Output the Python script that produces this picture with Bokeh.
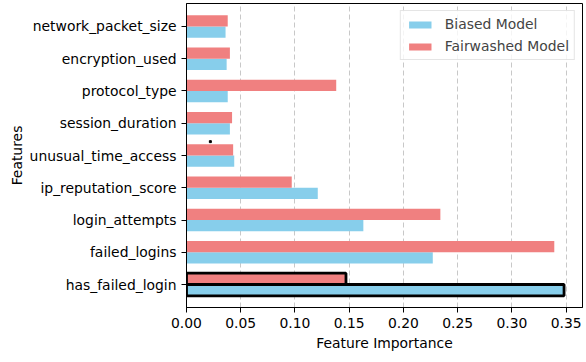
from bokeh.plotting import figure
from bokeh.models import ColumnDataSource, Range1d, FixedTicker, Legend, LegendItem
from bokeh.transform import dodge
from bokeh.embed import file_html
from bokeh.resources import INLINE

features = ["has_failed_login", "failed_logins", "login_attempts", "ip_reputation_score",
            "unusual_time_access", "session_duration", "protocol_type", "encryption_used",
            "network_packet_size"]
biased = [0.348, 0.227, 0.163, 0.121, 0.044, 0.040, 0.038, 0.037, 0.036]
fairwashed = [0.147, 0.339, 0.234, 0.097, 0.043, 0.042, 0.138, 0.040, 0.038]
highlight = ["has_failed_login"]
xticks = [0.0, 0.05, 0.10, 0.15, 0.20, 0.25, 0.30, 0.35]
stray_x = [0.022]
stray_y = [4.43]

BLUE = "#87ceeb"
RED = "#f08080"

ypos = list(range(len(features)))
lw = [2.8 if f in highlight else 0 for f in features]
lc = ["black" if f in highlight else None for f in features]
src = ColumnDataSource(dict(y=ypos, b=biased, f=fairwashed, lw=lw, lc=lc))

FONT = "DejaVu Sans"
FS = "13.9px"
p = figure(width=586, height=362, output_backend="svg", toolbar_location=None, title=None,
           x_range=Range1d(0, 0.365), y_range=Range1d(-0.713, 8.713),
           min_border_left=186, min_border_right=4, min_border_top=3, min_border_bottom=55)

rb = p.hbar(y=dodge("y", -0.175), right="b", left=0, height=0.35, source=src,
            fill_color=BLUE, line_color="lc", line_width="lw")
rf = p.hbar(y=dodge("y", 0.175), right="f", left=0, height=0.35, source=src,
            fill_color=RED, line_color="lc", line_width="lw")
p.scatter(stray_x, stray_y, marker="square", size=2, color="black")

p.outline_line_color = "black"
p.outline_line_width = 1
p.ygrid.grid_line_color = None
p.xgrid.grid_line_color = "#c8c8c8"
p.xgrid.grid_line_dash = "5 3"
p.xgrid.ticker = FixedTicker(ticks=xticks)

p.xaxis.ticker = FixedTicker(ticks=xticks)
p.xaxis.major_label_overrides = {t: f"{t:.2f}" for t in xticks}
p.yaxis.ticker = FixedTicker(ticks=ypos)
p.yaxis.major_label_overrides = {i: f for i, f in enumerate(features)}
for ax in (p.xaxis[0], p.yaxis[0]):
    ax.minor_tick_line_color = None
    ax.major_tick_in = 0
    ax.major_tick_out = 5
    ax.axis_line_color = "black"
    ax.major_label_text_font = FONT
    ax.major_label_text_font_size = FS
    ax.major_label_text_color = "black"
    ax.major_label_standoff = 5
    ax.axis_label_text_font = FONT
    ax.axis_label_text_font_size = FS
    ax.axis_label_text_font_style = "normal"
    ax.axis_label_text_color = "black"
p.xaxis.axis_label = "Feature Importance"
p.yaxis.axis_label = "Features"
p.xaxis.axis_label_standoff = 4
p.yaxis.axis_label_standoff = 2

legend = Legend(items=[LegendItem(label="Biased Model", renderers=[rb], index=1),
                       LegendItem(label="Fairwashed Model", renderers=[rf], index=1)],
                location="top_right")
legend.label_text_font = FONT
legend.label_text_font_size = FS
legend.glyph_width = 28
legend.glyph_height = 9
legend.label_height = 15
legend.label_standoff = 11
legend.border_line_color = "#cccccc"
legend.margin = 7
legend.padding = 5
legend.spacing = 6
legend.background_fill_alpha = 0.8
p.add_layout(legend)

open("out.html", "w").write(file_html(p, INLINE))
